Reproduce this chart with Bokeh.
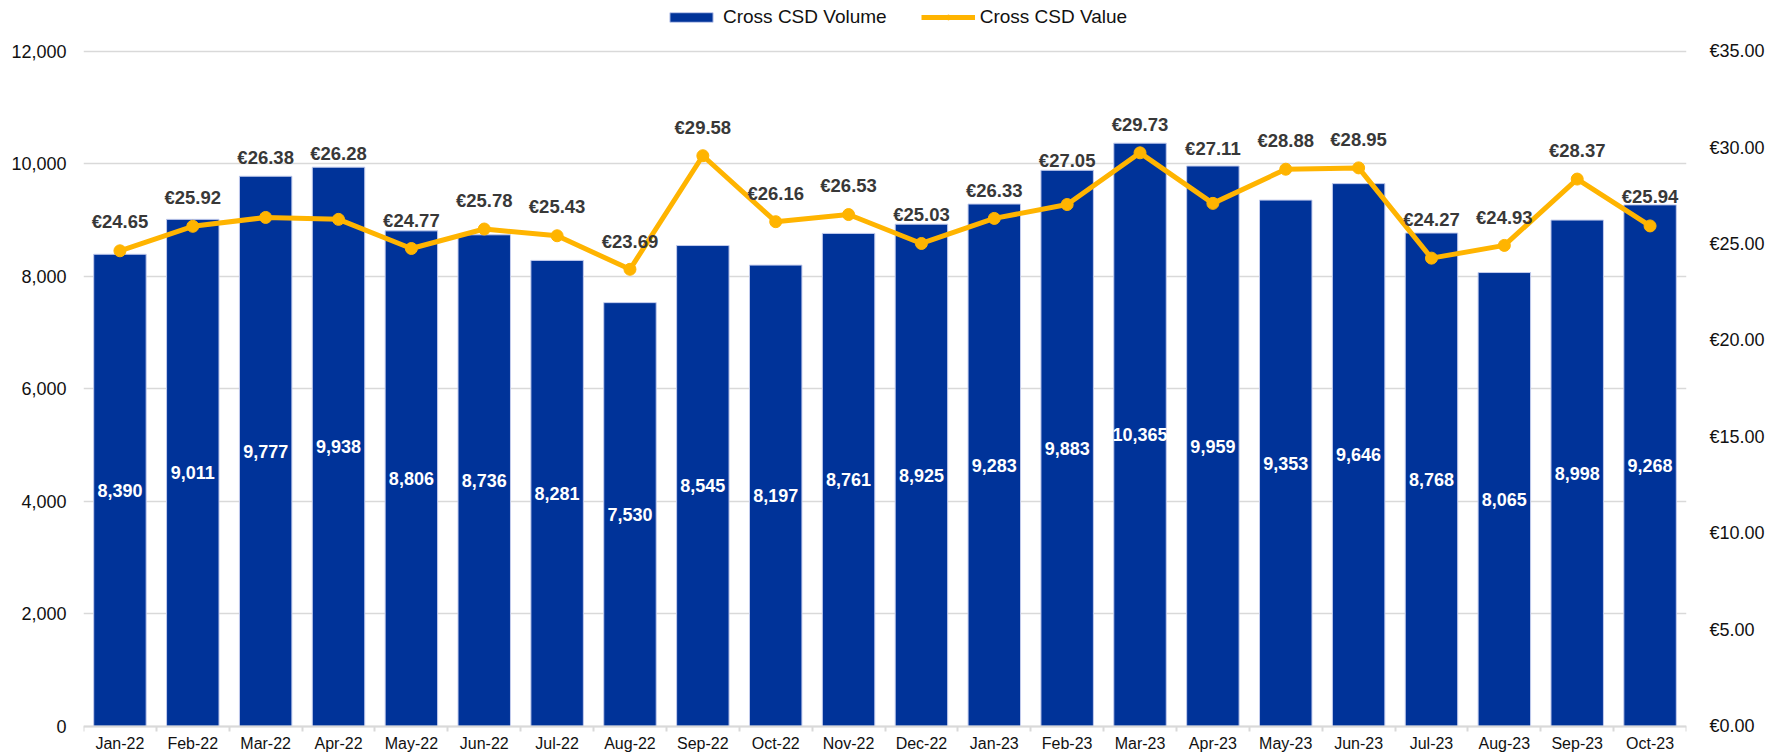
from bokeh.plotting import figure
from bokeh.models import (ColumnDataSource, Range1d, LinearAxis, FixedTicker, NumeralTickFormatter,
                          PrintfTickFormatter, Legend, LegendItem, Grid)
from bokeh.embed import file_html
from bokeh.resources import INLINE
from bokeh.core.properties import value

# ---------------- data ----------------
months = ["Jan-22", "Feb-22", "Mar-22", "Apr-22", "May-22", "Jun-22", "Jul-22", "Aug-22",
          "Sep-22", "Oct-22", "Nov-22", "Dec-22", "Jan-23", "Feb-23", "Mar-23", "Apr-23",
          "May-23", "Jun-23", "Jul-23", "Aug-23", "Sep-23", "Oct-23"]
volume = [8390, 9011, 9777, 9938, 8806, 8736, 8281, 7530, 8545, 8197, 8761, 8925,
          9283, 9883, 10365, 9959, 9353, 9646, 8768, 8065, 8998, 9268]
value_eur = [24.65, 25.92, 26.38, 26.28, 24.77, 25.78, 25.43, 23.69, 29.58, 26.16, 26.53, 25.03,
             26.33, 27.05, 29.73, 27.11, 28.88, 28.95, 24.27, 24.93, 28.37, 25.94]
left_ticks = [0, 2000, 4000, 6000, 8000, 10000, 12000]
right_ticks = [0, 5, 10, 15, 20, 25, 30, 35]

# layout only: how far (px) each value label sits above its point
label_lift_px = [29, 29, 60, 66, 28, 29, 29, 28, 28, 28, 29, 29,
                 28, 44, 28, 55, 29, 28, 39, 28, 29, 29]

FONT = "Liberation Sans"
W, H = 1767, 753
BAR_BLUE = "#003399"
GOLD = "#FFB400"
GRID = "#d9d9d9"
TXT = "#111111"

xs = [i + 0.5 for i, _ in enumerate(months)]
src = ColumnDataSource(dict(
    x=xs,
    volume=volume,
    mid=[v / 2 for v in volume],
    vol_txt=[f"{v:,}" for v in volume],
    val=value_eur,
    val_txt=[f"€{v:.2f}" for v in value_eur],
    lift=[-d for d in label_lift_px],
))

# frame spans the full figure height; 0..12000 occupies the same band as in the reference
ZERO_Y, TOP_Y = 725.7, 50.7
px_per_unit = (ZERO_Y - TOP_Y) / 12000.0
y_start = -(H - ZERO_Y) / px_per_unit
y_end = 12000 + TOP_Y / px_per_unit
ratio = 35.0 / 12000.0

p = figure(width=W, height=H, output_backend="svg", toolbar_location=None, title=None,
           x_axis_type=None, y_axis_type=None,
           x_range=Range1d(0, len(months)), y_range=Range1d(y_start, y_end),
           min_border_left=83, min_border_right=75, min_border_top=0, min_border_bottom=0)
p.outline_line_color = None
p.background_fill_color = "white"
p.extra_y_ranges = {"val": Range1d(y_start * ratio, y_end * ratio)}

grid = Grid(dimension=1, ticker=FixedTicker(ticks=left_ticks),
            grid_line_color=GRID, grid_line_width=1.6)
p.add_layout(grid)

left_axis = LinearAxis(ticker=FixedTicker(ticks=left_ticks),
                       formatter=NumeralTickFormatter(format="0,0"))
left_axis.axis_line_color = None
left_axis.major_tick_line_color = None
left_axis.minor_tick_line_color = None
left_axis.major_label_standoff = 11
left_axis.major_label_text_font = FONT
left_axis.major_label_text_font_size = "18px"
left_axis.major_label_text_color = TXT
p.add_layout(left_axis, "left")

right_axis = LinearAxis(y_range_name="val", ticker=FixedTicker(ticks=right_ticks),
                        formatter=PrintfTickFormatter(format="€%.2f"))
right_axis.axis_line_color = None
right_axis.major_tick_line_color = None
right_axis.minor_tick_line_color = None
right_axis.major_label_standoff = 17
right_axis.major_label_text_font = FONT
right_axis.major_label_text_font_size = "18px"
right_axis.major_label_text_color = TXT
p.add_layout(right_axis, "right")

bottom_axis = LinearAxis(fixed_location=0,
                         ticker=FixedTicker(ticks=xs, minor_ticks=list(range(len(months) + 1))),
                         major_label_overrides={x: m for x, m in zip(xs, months)})
bottom_axis.axis_line_color = GRID
bottom_axis.axis_line_width = 2
bottom_axis.major_tick_line_color = None
bottom_axis.major_tick_out = 0
bottom_axis.major_tick_in = 0
bottom_axis.minor_tick_line_color = GRID
bottom_axis.minor_tick_line_width = 2
bottom_axis.minor_tick_out = 5
bottom_axis.minor_tick_in = 0
bottom_axis.major_label_standoff = 4
bottom_axis.major_label_text_font = FONT
bottom_axis.major_label_text_font_size = "16px"
bottom_axis.major_label_text_color = TXT
p.add_layout(bottom_axis, "below")

bars = p.vbar(x="x", top="volume", bottom=0, width=0.72, source=src,
              fill_color=BAR_BLUE, line_color="#c3cced", line_width=1)
line = p.line("x", "val", source=src, y_range_name="val", line_color=GOLD, line_width=5)
dots = p.scatter("x", "val", source=src, y_range_name="val", size=12,
                 fill_color=GOLD, line_color=GOLD)

p.text(x="x", y="mid", text="vol_txt", source=src, text_color="white",
       text_font=value(FONT), text_font_style="bold", text_font_size="18px",
       text_align="center", text_baseline="middle")
p.text(x="x", y="val", text="val_txt", source=src, y_range_name="val", y_offset="lift",
       text_color="#383838", text_font=value(FONT), text_font_style="bold",
       text_font_size="18.5px", text_align="center", text_baseline="middle")

legend = Legend(items=[LegendItem(label="Cross CSD Volume", renderers=[bars]),
                       LegendItem(label="Cross CSD Value", renderers=[line, dots])],
                location=(581, 725), orientation="horizontal")
legend.label_text_font = FONT
legend.label_text_font_size = "19px"
legend.label_text_color = TXT
legend.spacing = 34
legend.label_standoff = 5
legend.glyph_width = 54
legend.glyph_height = 12
legend.label_height = 12
legend.padding = 0
legend.margin = 0
legend.border_line_color = None
legend.background_fill_alpha = 0
p.add_layout(legend)

open("out.html", "w").write(file_html(p, INLINE))
